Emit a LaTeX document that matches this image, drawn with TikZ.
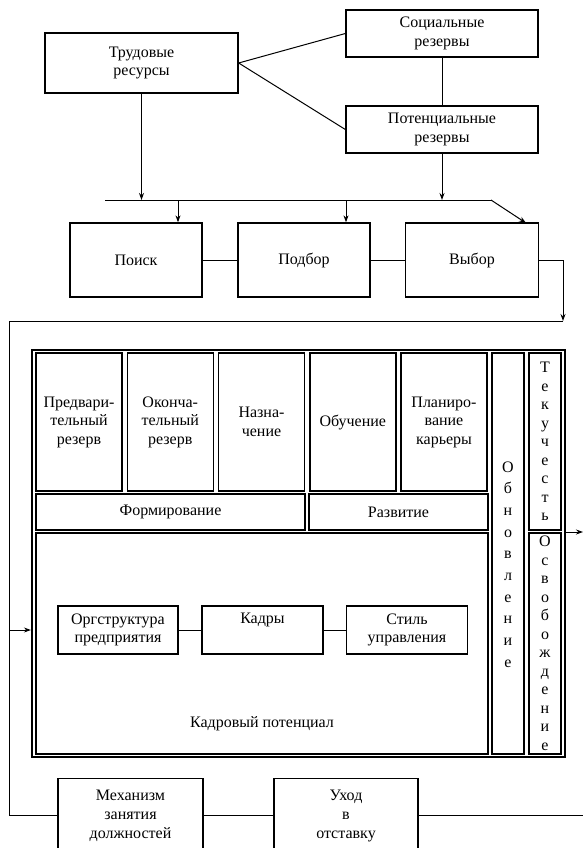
\documentclass[tikz,border=0pt]{standalone}
\usepackage{fontspec}
\setmainfont{Liberation Serif}
\usetikzlibrary{positioning,arrows.meta}

\begin{document}
\begin{tikzpicture}[x=1pt,y=-1pt,>={Stealth[length=7pt,width=5pt]},node distance=168pt,
                    line width=1pt,main node/.style={rectangle,draw,line width=1.3pt,align=center,inner sep=2pt,font=\fontsize{16}{18.5}\selectfont},
                    cell node/.style={main node,line width=1.5pt},
                    letter node/.style={align=center,inner sep=0pt,font=\fontsize{16}{18.5}\selectfont}]

  \useasboundingbox (0,0) rectangle (583,848);
  \clip (0,0) rectangle (583,848);

  \node[main node,minimum width=193pt,minimum height=60pt] (1) at (141.5,63) {Трудовые\\ресурсы};
  \node[main node,minimum width=192pt,minimum height=47pt] (2) at (442,33.5) {Социальные\\резервы};
  \node[main node,minimum width=192pt,minimum height=47pt] (3) at (442,129.5) {Потенциальные\\резервы};

  \node[main node,minimum width=132pt,minimum height=74pt] (4) at (136,260) {Поиск};
  \node[main node,minimum width=132pt,minimum height=74pt] (5) [right of=4] {Подбор};
  \node[main node,minimum width=133pt,minimum height=74pt] (6) [right of=5] {Выбор};

  % big frame
  \node[draw,line width=2.2pt,minimum width=533pt,minimum height=407pt,inner sep=0pt] (7) at (298.5,553.5) {};
  \node[cell node,minimum width=86pt,minimum height=138pt] (8) at (79,422) {Предвари-\\тельный\\резерв};
  \node[cell node,minimum width=86pt,minimum height=138pt] (9) [right of=8,node distance=91.25pt] {Оконча-\\тельный\\резерв};
  \node[cell node,minimum width=86pt,minimum height=138pt] (10) [right of=9,node distance=91.25pt] {Назна-\\чение};
  \node[cell node,minimum width=86pt,minimum height=138pt] (11) [right of=10,node distance=91.25pt] {Обучение};
  \node[cell node,minimum width=86pt,minimum height=138pt] (12) [right of=11,node distance=91.25pt] {Планиро-\\вание\\карьеры};
  \node[cell node,minimum width=269pt,minimum height=36pt] (13) at (170.5,512) {Формирование};
  \node[cell node,minimum width=179pt,minimum height=36pt] (14) at (398.5,512) {Развитие};
  \node[cell node,minimum width=452pt,minimum height=221pt] (15) at (262,643.5) {};
  \node[main node,minimum width=120pt,minimum height=48pt] (16) at (118,630) {Оргструктура\\предприятия};
  \node[main node,minimum width=121pt,minimum height=48pt] (17) [right of=16,node distance=144.5pt] {Кадры\\\strut};
  \node[main node,minimum width=121pt,minimum height=48pt] (18) [right of=17,node distance=144.5pt] {Стиль\\управления};
  \node[letter node] (19) at (262,724) {Кадровый потенциал};

  \node[cell node,minimum width=32pt,minimum height=401pt,inner sep=0pt] (20) at (508,553.5) {};
  \node[letter node,font=\fontsize{16}{21.7}\selectfont] (25) at (508,564.5) {О\\б\\н\\о\\в\\л\\е\\н\\и\\е};
  \node[cell node,minimum width=32pt,minimum height=177pt,inner sep=0pt] (21) at (545,441.5) {Т\\е\\к\\у\\ч\\е\\с\\т\\ь};
  \node[cell node,minimum width=32pt,minimum height=221pt,inner sep=0pt] (22) at (545,643.5) {О\\с\\в\\о\\б\\о\\ж\\д\\е\\н\\и\\е};

  \node[main node,minimum width=145pt,minimum height=74pt,anchor=north,font=\fontsize{16}{19}\selectfont] (23) at (130.5,778) {Механизм\\занятия\\должностей};
  \node[main node,minimum width=144pt,minimum height=74pt,anchor=north,font=\fontsize{16}{19}\selectfont] (24) at (346,778) {Уход\\в\\отставку};

  \coordinate (b1) at (105,200);
  \coordinate (b2) at (491,200);
  \coordinate (t4) at (178,200);
  \coordinate (t5) at (346,200);
  \coordinate (t6) at (526,223);
  \coordinate (r) at (563,321);
  \coordinate (l) at (9,321);
  \coordinate (k) at (9,630);
  \coordinate (o) at (583,532);
  \coordinate (e) at (583,815);

  \path
    (1.east) edge (2.west)
             edge (3.west)
    (2) edge (3)
    (4) edge (5)
    (5) edge (6)
    (16) edge (17)
    (17) edge (18)
    (23) edge (24)
    (24.east) edge (24.east -| e);

  \draw[->] (1.south) -- (1.south |- b1);
  \draw[->] (3.south) -- (3.south |- b1);
  \draw (b1) -- (b2);
  \draw[->] (b2) -- (t6);
  \draw[->] (t4) -- (t4 |- 4.north);
  \draw[->] (t5) -- (t5 |- 5.north);
  \draw[->] (6.east) -| (r);
  \draw (r) -- (l) -- (l |- 23.west) -- (23.west);
  \draw[->] (k) -- (k -| 7.west);
  \draw[->] (7.east |- o) -- (o);

\end{tikzpicture}
\end{document}
